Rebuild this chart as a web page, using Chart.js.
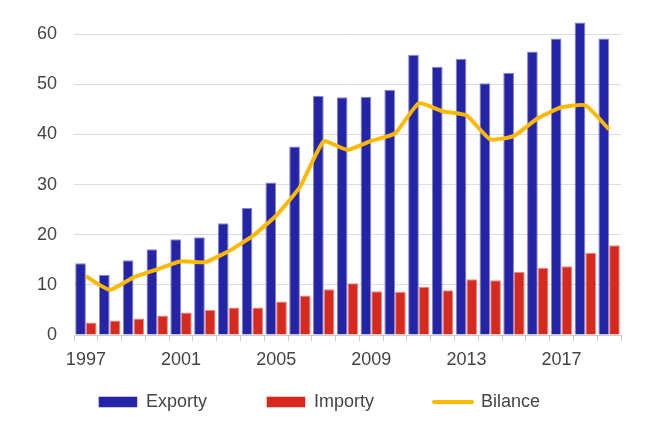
<!DOCTYPE html>
<html>
<head>
<meta charset="utf-8">
<script src="https://cdn.jsdelivr.net/npm/chart.js@4/dist/chart.umd.min.js"></script>
<style>
  html, body { margin: 0; padding: 0; background: #fff; }
  #wrap { width: 670px; height: 432px; }
</style>
</head>
<body>
<div id="wrap"><canvas id="chart"></canvas></div>
<script>
const years = ['1997', '1998', '1999', '2000', '2001', '2002', '2003', '2004', '2005', '2006', '2007', '2008',
  '2009', '2010', '2011', '2012', '2013', '2014', '2015', '2016', '2017', '2018', '2019'];
const exporty = [14.3, 12.0, 14.9, 17.1, 19.1, 19.5, 22.3, 25.3, 30.4, 37.6, 47.7, 47.4,
  47.5, 48.9, 55.9, 53.5, 55.1, 50.2, 52.3, 56.5, 59.1, 62.3, 59.1];
const importy = [2.5, 2.9, 3.3, 3.9, 4.5, 5.0, 5.5, 5.5, 6.7, 7.9, 9.1, 10.3,
  8.7, 8.6, 9.6, 8.9, 11.1, 10.9, 12.6, 13.4, 13.7, 16.4, 17.9];
const bilance = [11.7, 9.0, 11.5, 13.1, 14.7, 14.5, 16.7, 19.7, 23.8, 29.5, 38.6, 36.9,
  38.7, 40.2, 46.2, 44.6, 43.8, 39.0, 39.7, 43.2, 45.4, 45.8, 41.0];
const yTicks = [0, 10, 20, 30, 40, 50, 60];

const font = { family: "'Liberation Sans', Arial, sans-serif", size: 18 };
const textColor = '#444';

// legend sits lower and a bit right in the original;
// the legend clips to its own box, so give the box room for the big padding
const legendSpot = {
  id: 'legendSpot',
  afterLayout(chart) {
    const lg = chart.legend;
    lg.top = 402 - 60 - 9;
    lg.bottom = lg.top + 95;
    lg.left += 9; lg.right += 9;
  }
};

new Chart(document.getElementById('chart'), {
  data: {
    labels: years,
    datasets: [
      {
        type: 'line',
        label: 'Bilance',
        data: bilance,
        borderColor: '#fdb900',
        backgroundColor: '#fdb900',
        borderWidth: 4,
        pointRadius: 0,
        tension: 0.15,
        order: 0
      },
      {
        type: 'bar',
        label: 'Exporty',
        data: exporty,
        backgroundColor: '#2424a6',
        borderColor: 'rgba(36,36,166,0.55)',
        borderWidth: 1,
        categoryPercentage: 0.9,
        barPercentage: 1,
        order: 1
      },
      {
        type: 'bar',
        label: 'Importy',
        data: importy,
        backgroundColor: '#d62a1e',
        borderColor: 'rgba(214,42,30,0.55)',
        borderWidth: 1,
        categoryPercentage: 0.9,
        barPercentage: 1,
        order: 1
      }
    ]
  },
  options: {
    responsive: true,
    maintainAspectRatio: false,
    animation: false,
    layout: { padding: { top: 14, right: 49, left: 0, bottom: 0 } },
    plugins: {
      tooltip: { enabled: false },
      legend: {
        position: 'bottom',
        maxHeight: 40,
        labels: {
          font: font,
          color: textColor,
          usePointStyle: true,
          pointStyleWidth: 38,
          boxHeight: 10,
          padding: 60,
          sort: (a, b) => {
            const rank = { Exporty: 0, Importy: 1, Bilance: 2 };
            return rank[a.text] - rank[b.text];
          },
          generateLabels(chart) {
            const items = Chart.defaults.plugins.legend.labels.generateLabels(chart);
            items.forEach(it => {
              if (it.text === 'Bilance') {
                it.pointStyle = 'line';
                it.lineWidth = 4;
                it.lineCap = 'round';
                it.strokeStyle = '#fdb900';
              } else {
                it.pointStyle = 'rect';
                it.lineWidth = 1;
              }
            });
            return items;
          }
        }
      }
    },
    scales: {
      x: {
        offset: true,
        grid: {
          offset: true,
          drawOnChartArea: false,
          drawTicks: true,
          tickLength: 6,
          color: '#ccc'
        },
        border: { display: true, color: '#ccc' },
        ticks: {
          autoSkip: false,
          maxRotation: 0,
          font: font,
          color: textColor,
          padding: 8,
          callback: function(value, index) {
            return index % 4 === 0 ? years[index] : '';
          }
        },
        afterFit: s => { s.height = 57; s.paddingLeft = 0; s.paddingRight = 0; }
      },
      y: {
        min: 0,
        max: 64,
        afterBuildTicks: s => { s.ticks = yTicks.map(v => ({ value: v })); },
        grid: { color: '#ddd', drawTicks: false },
        border: { display: false },
        ticks: { font: font, color: textColor, padding: 17 },
        afterFit: s => { s.width = 74; s.paddingTop = 0; s.paddingBottom = 0; }
      }
    }
  },
  plugins: [legendSpot]
});
</script>
</body>
</html>
